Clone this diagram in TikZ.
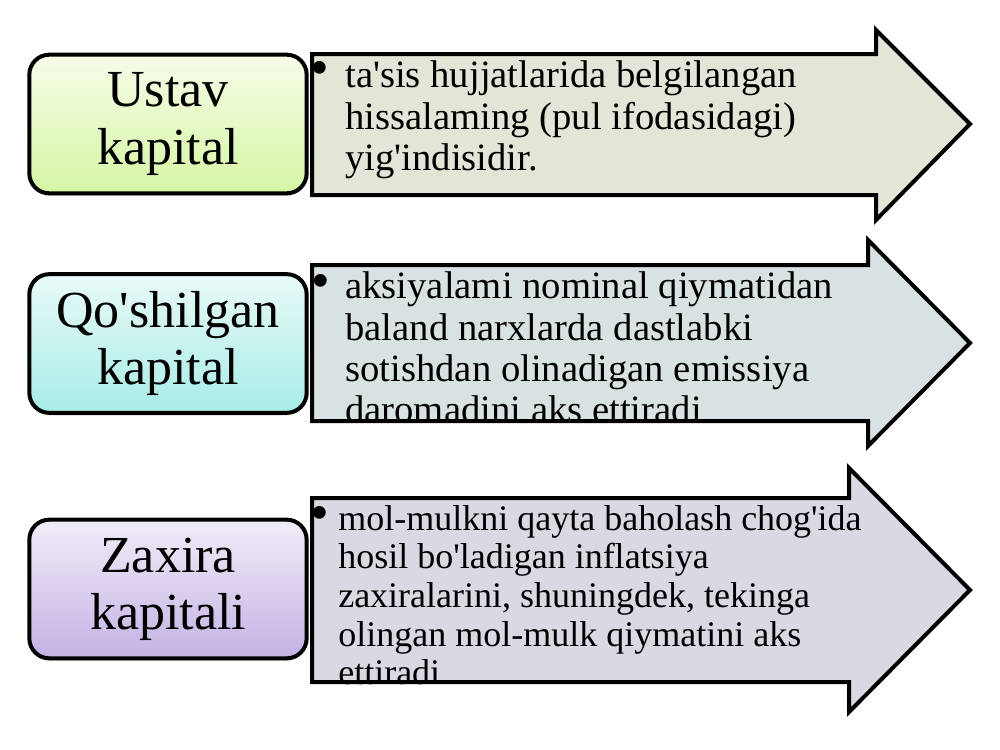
\documentclass[tikz,border=0pt]{standalone}
\usepackage{fontspec}
\setmainfont{Liberation Serif}[Ligatures=TeXOff]
\usetikzlibrary{ positioning, % For easy node-relative placements
                 shadows,     % For the soft shadow under the titles
               }
\definecolor{ustavtop}{RGB}{246,252,232}
\definecolor{ustavbot}{RGB}{214,246,164}
\definecolor{qoshtop}{RGB}{232,250,248}
\definecolor{qoshbot}{RGB}{168,236,230}
\definecolor{zaxtop}{RGB}{242,236,248}
\definecolor{zaxbot}{RGB}{196,178,228}
\definecolor{ustavfill}{RGB}{225,230,214}
\definecolor{qoshfill}{RGB}{217,226,226}
\definecolor{zaxfill}{RGB}{218,216,226}
\tikzstyle{title} = [rectangle, rounded corners=15pt, draw=black, line width=3pt,
                     minimum width=208pt, minimum height=104pt, align=center,
                     font=\fontsize{39}{43}\selectfont,
                     execute at begin node={\rule{0pt}{37pt}},
                     drop shadow={opacity=0.3, shadow xshift=0pt, shadow yshift=-2pt}]
\tikzstyle{pointer} = [draw=black, line width=3pt, line join=miter]
\tikzstyle{info} = [anchor=north west, inner sep=0pt, align=left]
\tikzstyle{dot} = [inner sep=0pt, font=\fontsize{40}{40}\selectfont]

\begin{document}
\begin{tikzpicture}[x=0.75pt, y=-0.75pt]
  \useasboundingbox (0, 0) rectangle (1000, 750);
  % titles on the left
  \node (ustav) [title, top color=ustavtop, bottom color=ustavbot] at (168, 124) {Ustav\\kapital};
  \node (qoshilgan) [title, top color=qoshtop, bottom color=qoshbot] at (168, 343.5) {Qo'shilgan\\kapital};
  \node (zaxira) [title, top color=zaxtop, bottom color=zaxbot] at (168, 589) {Zaxira\\kapitali};
  % arrows
  \path [pointer, fill=ustavfill] (312, 54) -- (876, 54) -- (876, 30) -- (970, 124)
    -- (876, 220) -- (876, 195) -- (312, 195) -- cycle;
  \path [pointer, fill=qoshfill] (312, 265) -- (868, 265) -- (868, 240) -- (970, 343)
    -- (868, 446) -- (868, 421) -- (312, 421) -- cycle;
  \path [pointer, fill=zaxfill] (312, 498) -- (849, 498) -- (849, 468) -- (970, 590)
    -- (849, 712) -- (849, 682) -- (312, 682) -- cycle;
  % texts in the arrows
  \node (b1) [dot] at (320, 73) {•};
  \node (ustavtxt) [info, font=\fontsize{29}{31}\selectfont] at (345, 60.6)
    {ta'sis hujjatlarida belgilangan\\hissalaming (pul ifodasidagi)\\yig'indisidir.};
  \node (b2) [dot] at (321, 286) {•};
  \node (qoshtxt) [info, font=\fontsize{29}{31}\selectfont] at (345, 271.6)
    {aksiyalami nominal qiymatidan\\baland narxlarda dastlabki\\sotishdan olinadigan emissiya\\daromadini aks ettiradi};
  \node (b3) [dot] at (320, 518) {•};
  \node (zaxtxt) [info, font=\fontsize{27}{29}\selectfont] at (338, 505)
    {mol-mulkni qayta baholash chog'ida\\hosil bo'ladigan inflatsiya\\zaxiralarini, shuningdek, tekinga\\olingan mol-mulk qiymatini aks\\ettiradi};
\end{tikzpicture}
\end{document}
